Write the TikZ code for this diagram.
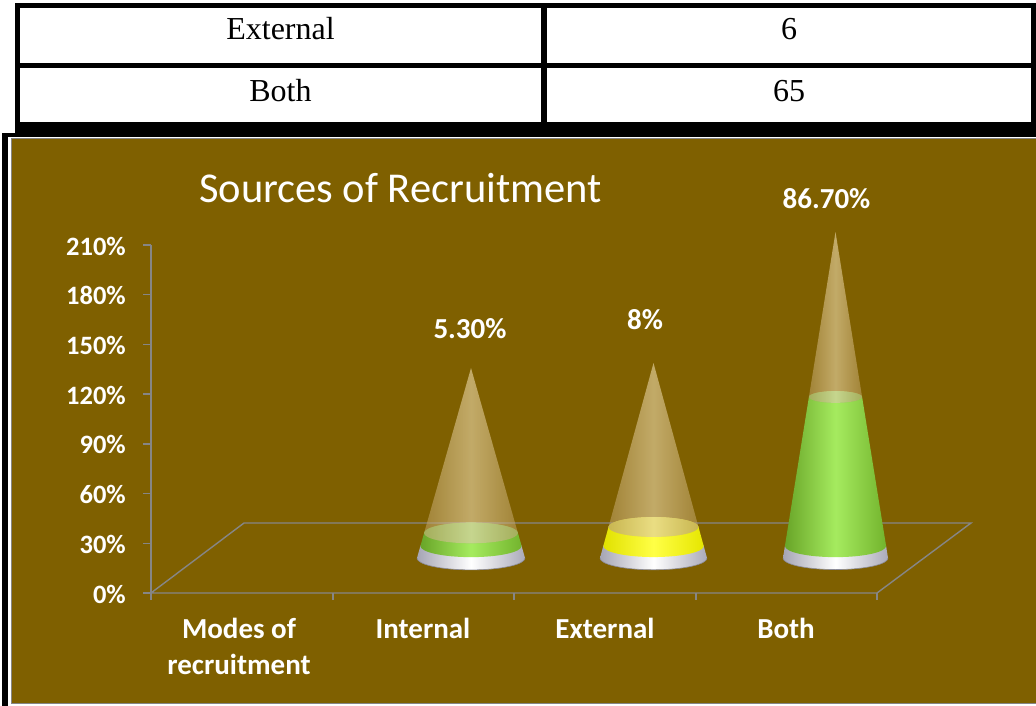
\documentclass[tikz,border=0pt]{standalone}
\usepackage{fontspec}
\setmainfont{Liberation Serif}
\newfontfamily\calibfont{Carlito}
\definecolor{chartbrown}{RGB}{127,96,0}
\definecolor{axisgray}{RGB}{134,134,134}
\definecolor{tanedge}{RGB}{190,161,100}
\definecolor{tanmid}{RGB}{250,232,190}
\definecolor{grnL}{RGB}{105,165,40}
\definecolor{grnM}{RGB}{165,235,95}
\definecolor{grnR}{RGB}{115,180,45}
\definecolor{grnTop}{RGB}{135,192,85}
\definecolor{yelL}{RGB}{225,225,0}
\definecolor{yelM}{RGB}{255,255,70}
\definecolor{yelR}{RGB}{230,230,0}
\definecolor{yelTop}{RGB}{215,210,60}
\definecolor{baseL}{RGB}{165,165,180}
\definecolor{baseM}{RGB}{255,255,255}
\definecolor{baseR}{RGB}{170,170,185}
\newcommand\frustum[6]{%
  \path[#6] (#1-#3,#2) arc[start angle=180,end angle=0,x radius=#3,y radius=0.22*#3]
    -- (#1+#5,#4) arc[start angle=0,end angle=-180,x radius=#5,y radius=0.22*#5] -- cycle;}
\newcommand\fullcone[5]{%
  \path[#5] (#1-#3,#2) arc[start angle=180,end angle=0,x radius=#3,y radius=0.22*#3]
    -- (#1,#4) -- cycle;}
\newcommand\onecone[7]{% cx, apex, r0, r546, ytop, rtop, colorprefix
  \frustum{#1}{558}{#3}{546}{#4}{left color=baseL,right color=baseR,middle color=baseM}
  \draw[baseL!85!black,line width=0.6] (#1-#3,558) arc[start angle=180,end angle=0,x radius=#3,y radius=0.22*#3];
  \frustum{#1}{546}{#4}{#5}{#6}{left color=#7L,right color=#7R,middle color=#7M}
  \fill[#7Top] (#1,#5) ellipse[x radius=#6,y radius=0.22*#6];
  \fullcone{#1}{#5}{#6}{#2}{left color=tanedge,right color=tanedge,middle color=tanmid,fill opacity=0.55}
}
\begin{document}
\begin{tikzpicture}[x=1pt,y=-1pt,
  tbltext/.style={font=\fontsize{32}{32}\selectfont,anchor=base,inner sep=0},
  ticklbl/.style={font=\calibfont\bfseries\fontsize{26.5}{26.5}\selectfont,text=white,anchor=base east,inner sep=0},
  catlbl/.style={font=\calibfont\bfseries\fontsize{29}{29}\selectfont,text=white,anchor=base,inner sep=0},
  datalbl/.style={font=\calibfont\bfseries\fontsize{29}{29}\selectfont,text=white,anchor=base,inner sep=0},
  axisline/.style={draw=axisgray,line width=1.4}]
\useasboundingbox (0,0) rectangle (1036,706);
\fill[white] (0,0) rectangle (1036,706);
% table
\fill[black] (15,3) rectangle (1036,127);
\fill[white] (20,8) rectangle (541,63);
\fill[white] (547,8) rectangle (1031,63);
\fill[white] (20,68) rectangle (541,122);
\fill[white] (547,68) rectangle (1031,122);
\node[tbltext] (t1) at (280.5,40) {External};
\node[tbltext] (t2) at (789,40) {6};
\node[tbltext] (t3) at (280.5,102) {Both};
\node[tbltext] (t4) at (789,102) {65};
% chart frame
\fill[black] (15,127) rectangle (1036,137);
\fill[black] (2,133) rectangle (1036,706);
\fill[white] (8,137) rectangle (1036,706);
\path[fill=chartbrown,draw=axisgray,line width=1.2] (11.5,138.5) rectangle (1040,703.5);
% title
\node[font=\calibfont\fontsize{42.5}{42.5}\selectfont,text=white,anchor=base,inner sep=0] (title) at (400.5,202) {Sources of Recruitment};
% floor
\coordinate (f1) at (151,593);
\coordinate (f2) at (877,593);
\coordinate (f3) at (971,523);
\coordinate (f4) at (244,523);
\draw[axisline] (f1) -- (f2) -- (f3) -- (f4) -- cycle;
% value axis
\coordinate (vtop) at (151,245);
\draw[axisline] (vtop) -- (f1);
\foreach \i/\lab in {0/0\%,1/30\%,2/60\%,3/90\%,4/120\%,5/150\%,6/180\%,7/210\%}{
  \pgfmathsetmacro\yy{593-49.71*\i}
  \draw[axisline] (143,\yy) -- (151,\yy);
  \node[ticklbl] (tick\i) at (126,\yy+10) {\lab};
}
\foreach \xx in {151,333,514,696,877}{
  \draw[axisline] (\xx,593) -- (\xx,600);
}
% category labels
\node[catlbl] (c1a) at (239,638) {Modes of};
\node[catlbl] (c1b) at (239,674) {recruitment};
\node[catlbl] (c2) at (423,638) {Internal};
\node[catlbl] (c3) at (605,638) {External};
\node[catlbl] (c4) at (786,638) {Both};
% cones
\onecone{471}{368}{54}{50.6}{533}{46.9}{grn}
\onecone{653.5}{363}{53.5}{50.2}{527}{45}{yel}
\onecone{835.5}{232}{52.5}{50.6}{397}{26.6}{grn}
% data labels
\node[datalbl] (d1) at (470,338) {5.30\%};
\node[datalbl] (d2) at (645,329) {8\%};
\node[datalbl] (d3) at (826.5,208) {86.70\%};
\end{tikzpicture}
\end{document}
